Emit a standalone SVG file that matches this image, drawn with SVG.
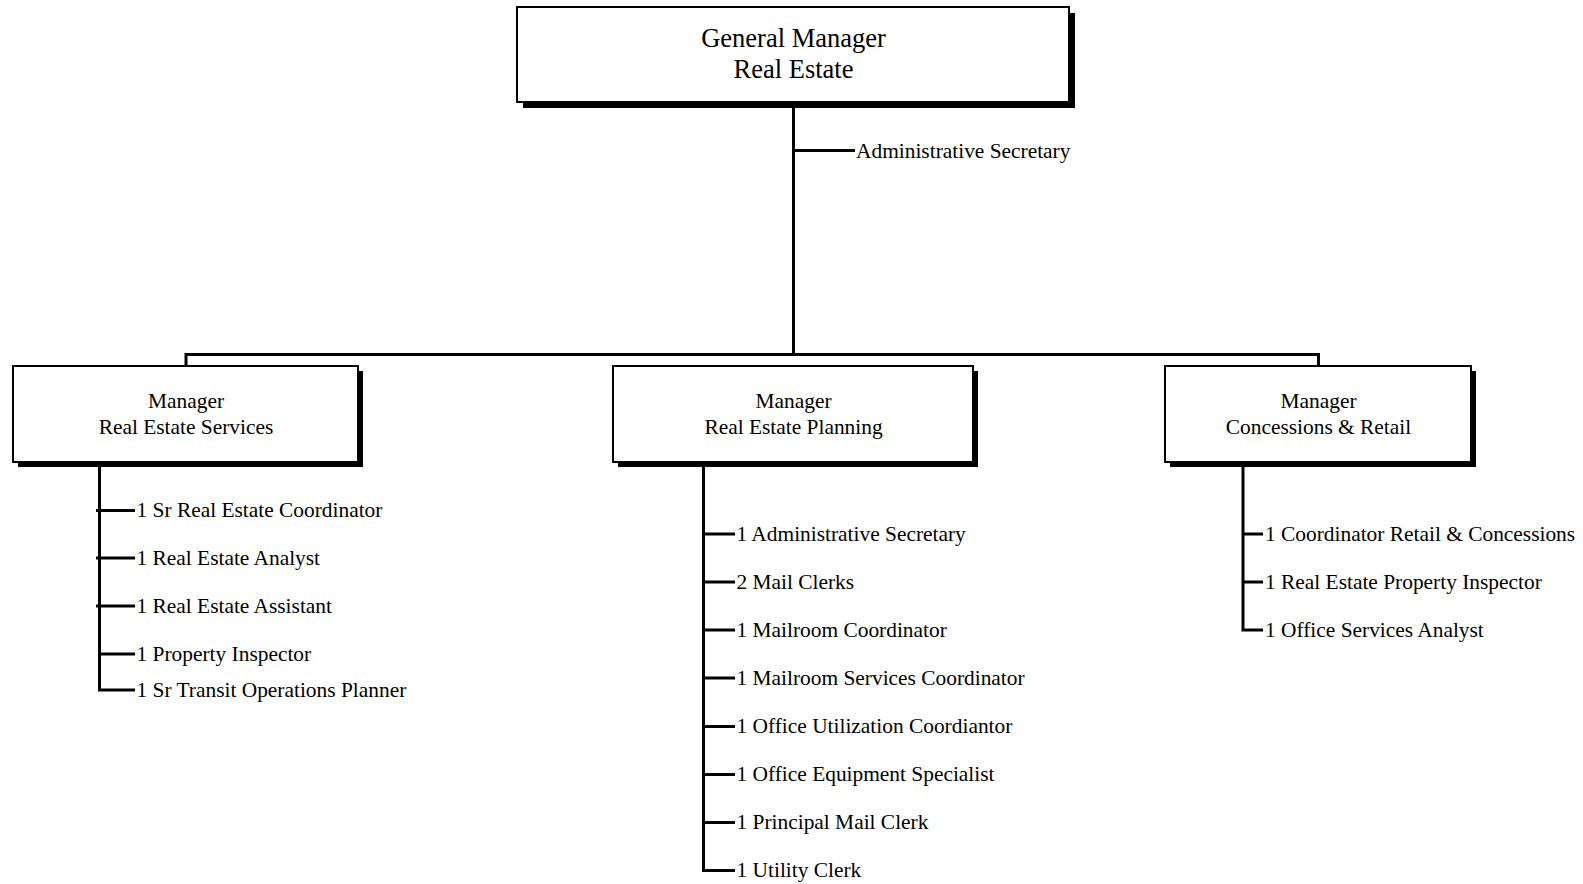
<svg xmlns="http://www.w3.org/2000/svg" width="1583" height="884" viewBox="0 0 1583 884">
<style>
.box{fill:#fff;stroke:#000;stroke-width:2}
.shadow{fill:#000}
.ln{fill:none;stroke:#000;stroke-width:3;stroke-linecap:butt;stroke-linejoin:miter}
text{font-family:"Liberation Serif","Times New Roman",serif;fill:#000}
.t1{font-size:26.5px;text-anchor:middle}
.t2{font-size:21.4px;text-anchor:middle}
.t3{font-size:21.4px}
</style>
<rect width="1583" height="884" fill="#fff"/>
<g id="connectors">
<path class="ln" d="M793.5 102V354.5M793.5 150.5H855M186 354.5H1318.5M186 353V367M1318.5 353V367"/>
<path class="ln" d="M99.5 463V690H135M96 510.5H135M96 558H135M96 606H135M99.5 654H135"/>
<path class="ln" d="M703.5 463V870.5H735M703.5 534H735M703.5 582H735M703.5 630H735M703.5 678H735M703.5 726.5H735M703.5 774.5H735M703.5 822.5H735"/>
<path class="ln" d="M1243 463V630H1263M1243 534H1263M1243 582H1263"/>
</g>
<g id="gm">
<rect class="shadow" x="523" y="13" width="552" height="95"/>
<rect class="box" x="517" y="7" width="552" height="95"/>
<text class="t1" x="793.5" y="46.5">General Manager</text>
<text class="t1" x="793.5" y="78">Real Estate</text>
</g>
<g id="gm-secretary">
<text class="t3" x="856" y="157.5">Administrative Secretary</text>
</g>
<g id="res">
<rect class="shadow" x="18" y="371" width="345" height="96"/>
<rect class="box" x="13" y="366" width="345" height="96"/>
<text class="t2" x="186" y="408">Manager</text>
<text class="t2" x="186" y="434">Real Estate Services</text>
</g>
<g id="res-staff">
<text class="t3" x="136.5" y="517">1 Sr Real Estate Coordinator</text>
<text class="t3" x="136.5" y="564.5">1 Real Estate Analyst</text>
<text class="t3" x="136.5" y="612.5">1 Real Estate Assistant</text>
<text class="t3" x="136.5" y="660.5">1 Property Inspector</text>
<text class="t3" x="136.5" y="696.5">1 Sr Transit Operations Planner</text>
</g>
<g id="rep">
<rect class="shadow" x="618" y="371" width="360" height="96"/>
<rect class="box" x="613" y="366" width="360" height="96"/>
<text class="t2" x="793.5" y="408">Manager</text>
<text class="t2" x="793.5" y="434">Real Estate Planning</text>
</g>
<g id="rep-staff">
<text class="t3" x="736.5" y="540.5">1 Administrative Secretary</text>
<text class="t3" x="736.5" y="588.5">2 Mail Clerks</text>
<text class="t3" x="736.5" y="636.5">1 Mailroom Coordinator</text>
<text class="t3" x="736.5" y="684.5">1 Mailroom Services Coordinator</text>
<text class="t3" x="736.5" y="733">1 Office Utilization Coordiantor</text>
<text class="t3" x="736.5" y="781">1 Office Equipment Specialist</text>
<text class="t3" x="736.5" y="829">1 Principal Mail Clerk</text>
<text class="t3" x="736.5" y="877">1 Utility Clerk</text>
</g>
<g id="cr">
<rect class="shadow" x="1170" y="371" width="306" height="96"/>
<rect class="box" x="1165" y="366" width="306" height="96"/>
<text class="t2" x="1318.5" y="408">Manager</text>
<text class="t2" x="1318.5" y="434">Concessions &amp; Retail</text>
</g>
<g id="cr-staff">
<text class="t3" x="1265" y="540.5">1 Coordinator Retail &amp; Concessions</text>
<text class="t3" x="1265" y="588.5">1 Real Estate Property Inspector</text>
<text class="t3" x="1265" y="636.5">1 Office Services Analyst</text>
</g>
</svg>
